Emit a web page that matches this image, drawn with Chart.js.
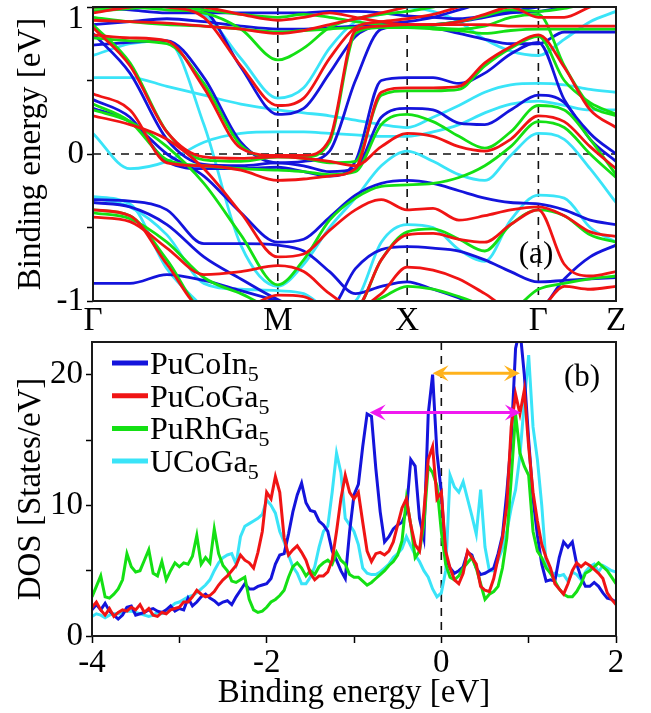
<!DOCTYPE html>
<html>
<head>
<meta charset="utf-8">
<script src="https://cdn.jsdelivr.net/npm/chart.js@4.4.1/dist/chart.umd.min.js"></script>
<style>
  body { margin: 0; background: #ffffff; }
  canvas { display: block; }
</style>
</head>
<body>
<canvas id="chartBands" width="651" height="330"></canvas>
<canvas id="chartDos" width="651" height="383"></canvas>
<script>
// ============================================
// (a) band structure, (b) density of states
// ============================================

// k-path nodes (units of the Γ-M length) and high-symmetry labels
const K_PATH = [0, 0.2, 0.4, 0.6, 0.8, 1.0, 1.14, 1.28, 1.42, 1.56, 1.70, 1.84, 1.98, 2.12, 2.26, 2.41, 2.55, 2.69, 2.83];
const K_TICKS = [0, 1.0, 1.70, 2.41, 2.83];
const K_LABELS = ['Γ', 'M', 'X', 'Γ', 'Z'];
const K_DASHED = [1.0, 1.70, 2.41];

// band energies (eV) at each K_PATH node, one row per band
const BANDS_PuCoGa5 = [
    [0.96, 1.0, 1.02, 1.0, 0.95, 0.91, 0.93, 0.96, 0.93, 0.9, 0.88, 0.88, 0.88, 0.88, 0.87, 0.87, 0.87, 0.87, 0.87],
    [0.91, 0.9, 0.89, 0.87, 0.85, 0.82, 0.84, 0.88, 0.92, 0.96, 1.0, 1.04, 1.06, 1.06, 1.06, 1.06, 1.06, 1.06, 1.06],
    [0.81, 0.79, 0.77, 0.45, 0.04, -0.01, -0.01, 0.1, 0.84, 0.87, 0.88, 0.88, 0.9, 0.95, 1.0, 0.93, 0.93, 1.0, 1.05],
    [1.0, 1.02, 1.0, 0.93, 0.6, 0.33, 0.38, 0.65, 0.86, 0.9, 0.92, 0.95, 1.0, 1.05, 1.05, 1.05, 1.05, 1.05, 1.05],
    [0.41, 0.3, -0.06, -0.08, -0.11, -0.18, -0.17, -0.15, -0.1, 0.42, 0.45, 0.45, 0.46, 0.62, 0.73, 0.81, 0.59, 0.3, 0.18],
    [0.26, 0.2, 0.1, -0.1, -0.4, -0.7, -0.68, -0.52, -0.38, -0.31, -0.38, -0.37, -0.45, -0.42, -0.38, -0.36, -0.42, -0.53, -0.56],
    [-0.38, -0.42, -0.75, -1.05, -1.05, -0.96, -0.97, -1.05, -1.05, -0.95, -0.77, -0.79, -0.85, -0.95, -1.05, -1.05, -0.9, -0.92, -0.9],
    [-0.43, -0.46, -0.64, -0.82, -0.8, -0.76, -0.8, -0.95, -1.05, -0.72, -0.55, -0.54, -0.58, -0.6, -0.48, -0.38, -0.75, -0.83, -0.8],
    [0.86, 0.6, 0.15, -0.02, -0.03, -0.02, -0.03, -0.05, -0.08, 0.05, 0.14, 0.12, 0.05, 0.02, 0.1, 0.26, 0.22, 0.05, -0.1]
];

const BANDS_PuCoIn5 = [
    [1.0, 0.98, 0.96, 0.96, 0.96, 0.96, 0.96, 0.97, 0.97, 0.96, 0.94, 0.93, 0.92, 0.94, 0.97, 1.0, 1.02, 1.02, 1.02],
    [0.88, 0.9, 0.92, 0.9, 0.87, 0.85, 0.85, 0.86, 0.87, 0.88, 0.88, 0.86, 0.82, 0.78, 0.75, 0.75, 0.83, 0.83, 0.83],
    [0.74, 0.76, 0.77, 0.52, 0.08, -0.06, -0.05, 0.02, 0.5, 0.85, 0.87, 0.88, 0.9, 0.93, 0.96, 0.97, 1.0, 1.03, 1.05],
    [1.02, 1.03, 1.03, 0.98, 0.59, 0.27, 0.31, 0.55, 0.8, 0.88, 0.9, 0.93, 0.98, 1.03, 1.05, 1.05, 1.05, 1.05, 1.05],
    [0.37, 0.25, -0.05, -0.1, -0.1, -0.09, -0.12, -0.15, -0.05, 0.5, 0.52, 0.52, 0.48, 0.55, 0.68, 0.76, 0.37, 0.14, 0.0],
    [0.31, 0.22, 0.0, -0.15, -0.4, -0.6, -0.58, -0.43, -0.28, -0.2, -0.18, -0.2, -0.25, -0.3, -0.33, -0.34, -0.38, -0.45, -0.48],
    [0.82, 0.55, 0.1, -0.07, -0.08, -0.06, -0.08, -0.12, -0.1, 0.25, 0.31, 0.3, 0.21, 0.2, 0.3, 0.4, 0.35, 0.1, -0.05],
    [-0.31, -0.32, -0.38, -0.61, -0.61, -0.62, -0.66, -0.8, -0.95, -0.9, -0.87, -0.92, -0.98, -1.05, -1.05, -1.05, -0.85, -0.7, -0.62],
    [-0.33, -0.36, -0.48, -0.7, -0.85, -0.99, -1.05, -1.05, -0.78, -0.65, -0.63, -0.64, -0.66, -0.72, -0.8, -0.87, -0.86, -0.85, -0.84],
    [-0.88, -0.88, -0.82, -0.86, -0.93, -1.0, -1.05, null, null, null, null, null, null, null, null, null, null, null, null]
];

const BANDS_PuRhGa5 = [
    [0.97, 0.99, 1.01, 0.98, 0.95, 0.93, 0.95, 0.93, 0.9, 0.88, 0.87, 0.86, 0.85, 0.87, 0.93, 0.95, 0.6, 0.33, 0.26],
    [0.93, 0.9, 0.88, 0.87, 0.85, 0.83, 0.84, 0.85, 0.86, 0.86, 0.86, 0.85, 0.84, 0.82, 0.84, 0.85, 0.85, 0.85, 0.85],
    [0.99, 1.0, 0.98, 0.96, 0.85, 0.64, 0.72, 0.86, 0.92, 0.95, 0.97, 1.0, 1.03, 1.05, 1.05, 1.05, 1.05, 1.05, 1.05],
    [0.79, 0.77, 0.75, 0.48, 0.06, -0.02, -0.02, 0.08, 0.82, 0.86, 0.87, 0.88, 0.9, 0.94, 0.98, 0.97, 0.99, 1.03, 1.05],
    [0.88, 0.62, 0.15, -0.04, -0.05, -0.02, -0.03, -0.06, -0.05, 0.4, 0.43, 0.43, 0.44, 0.6, 0.72, 0.8, 0.5, 0.35, 0.27],
    [0.34, 0.22, -0.04, -0.08, -0.1, -0.11, -0.12, -0.14, -0.12, 0.2, 0.27, 0.22, 0.12, 0.04, 0.15, 0.33, 0.3, 0.1, -0.14],
    [0.3, 0.22, 0.05, -0.2, -0.55, -0.89, -0.72, -0.45, -0.3, -0.22, -0.21, -0.2, -0.16, -0.08, 0.05, 0.22, 0.18, 0.0, -0.16],
    [-0.38, -0.42, -0.72, -1.05, -1.05, -1.05, -1.05, -1.05, -1.05, -0.72, -0.53, -0.51, -0.58, -0.66, -0.48, -0.38, -0.42, -0.55, -0.6],
    [-0.4, -0.44, -0.6, -0.84, -0.95, -1.05, -1.05, -1.05, -1.05, -0.98, -0.9, -0.92, -0.97, -1.03, -1.05, -0.92, -0.88, -0.85, -0.83]
];

const BANDS_UCoGa5 = [
    [0.67, 0.75, 0.77, 0.2, -0.62, -0.9, -0.75, -0.5, -0.3, -0.08, 0.02, -0.05, -0.14, -0.18, -0.01, 0.14, 0.1, -0.1, -0.33],
    [0.52, 0.52, 0.46, 0.4, 0.34, 0.3, 0.28, 0.26, 0.23, 0.2, 0.18, 0.25, 0.33, 0.42, 0.47, 0.48, 0.47, 0.44, 0.42],
    [1.02, 1.02, 1.0, 0.95, 0.65, 0.38, 0.45, 0.72, 0.9, 0.95, 1.0, 0.97, 0.9, 0.78, 0.7, 0.67, 0.78, 0.9, 0.97],
    [0.14, -0.1, -0.05, 0.08, 0.14, 0.15, 0.15, 0.14, 0.13, 0.12, 0.12, 0.15, 0.2, 0.28, 0.34, 0.36, 0.33, 0.3, 0.3],
    [-0.29, -0.34, -0.78, -1.05, null, null, null, null, null, null, null, null, null, null, null, null, null, null, null],
    [-0.3, -0.36, -0.55, -0.88, -0.92, -0.93, -0.95, -1.05, -1.0, -0.6, -0.48, -0.5, -0.65, -0.73, -0.45, -0.28, -0.3, -0.5, -0.6]
];

// DOS energy grid: -4 eV to 2 eV in 0.05 eV steps
const DOS_E_START = -4;
const DOS_E_STEP = 0.05;

// DOS values (states/eV) on that grid
const DOS_PuCoIn5 = [
    2.0, 2.4, 2.0, 2.5, 1.9, 1.6, 1.3, 1.6, 2.2, 2.3, 1.6, 1.7, 1.8, 2.0, 2.1, 1.9, 1.8, 2.0, 2.3, 1.9,
    2.1, 2.0, 2.9, 2.3, 2.6, 3.0, 3.2, 2.9, 2.7, 2.4, 2.6, 2.7, 2.4, 3.0, 3.5, 4.0, 3.6, 3.6, 3.8, 3.9,
    4.0, 4.4, 5.5, 6.2, 6.3, 7.8, 9.5, 10.8, 11.7, 10.2, 9.6, 9.5, 8.8, 8.5, 8.0, 6.5, 5.8, 5.0, 4.4, 8.0,
    10.8, 11.6, 14.5, 17.0, 16.8, 12.8, 9.5, 7.2, 7.6, 8.2, 8.5, 8.7, 9.5, 13.5, 13.0, 9.0, 7.5, 17.0, 20.0, 14.0,
    11.0, 6.0, 5.2, 4.8, 5.0, 5.3, 6.4, 6.2, 5.2, 4.7, 4.8, 5.0, 5.2, 6.3, 7.7, 11.0, 15.0, 22.0, 23.5, 20.0,
    15.0, 10.5, 7.7, 5.5, 4.2, 4.3, 4.2, 6.0, 7.2, 6.8, 7.2, 5.5, 4.5, 3.8, 3.8, 4.1, 3.8, 3.3, 2.9, 2.8, 2.6
];

const DOS_PuCoGa5 = [
    2.2, 2.6, 2.0, 1.6, 2.1, 1.5, 1.8, 2.0, 1.9, 2.2, 2.0, 2.4, 1.8, 2.1, 1.6, 1.5, 1.8, 1.7, 2.0, 2.1,
    2.2, 2.6, 2.6, 3.0, 3.5, 3.2, 3.0, 3.1, 3.4, 3.9, 4.3, 4.6, 5.0, 5.4, 6.2, 5.8, 5.6, 5.2, 6.4, 8.0,
    11.0, 10.5, 12.2, 11.0, 7.5, 6.2, 6.6, 6.9, 6.4, 5.8, 4.8, 4.3, 4.6, 4.6, 4.9, 5.8, 8.0, 10.5, 12.3, 11.0,
    10.5, 11.0, 8.7, 6.5, 5.7, 6.3, 6.4, 6.2, 6.5, 7.2, 8.5, 9.8, 10.5, 8.5, 7.0, 6.5, 9.5, 13.5, 14.5, 10.5,
    11.0, 6.5, 5.2, 4.3, 4.0, 4.8, 6.5, 6.0, 5.5, 3.8, 3.5, 3.4, 4.4, 6.0, 7.5, 10.0, 16.0, 18.5, 17.0, 18.8,
    14.5, 11.0, 8.8, 7.0, 6.0, 5.2, 4.0, 3.6, 3.2, 4.0, 5.0, 5.6, 5.3, 5.6, 5.4, 5.1, 4.8, 4.4, 3.3, 2.8, 2.4
];

const DOS_PuRhGa5 = [
    3.0, 3.8, 4.6, 3.0, 2.9, 3.2, 3.6, 4.3, 6.3, 5.3, 4.9, 5.0, 5.8, 6.6, 4.8, 4.6, 5.7, 4.3, 5.0, 5.6,
    5.3, 5.6, 5.5, 6.1, 7.7, 5.5, 6.0, 5.6, 8.2, 6.3, 5.4, 5.0, 4.2, 4.1, 4.3, 4.5, 2.8, 2.0, 1.8, 1.9,
    2.2, 2.6, 2.8, 3.1, 3.5, 4.5, 5.3, 5.6, 5.2, 4.6, 5.0, 4.7, 5.3, 5.6, 5.8, 5.5, 6.4, 5.8, 5.5, 4.7,
    4.5, 4.5, 4.2, 3.9, 4.1, 4.4, 4.7, 5.0, 5.4, 5.7, 6.2, 7.3, 10.5, 8.5, 6.0, 6.5, 8.5, 13.0, 12.5, 11.5,
    8.0, 5.5, 4.5, 4.3, 4.6, 5.2, 5.6, 6.0, 5.2, 4.0, 2.8, 3.2, 3.4, 3.8, 5.2, 7.5, 12.0, 17.0, 14.0, 13.0,
    12.3, 8.0, 6.5, 6.0, 5.2, 4.8, 4.2, 3.6, 3.2, 3.0, 3.0, 3.4, 4.0, 4.8, 5.0, 5.3, 5.6, 5.3, 5.0, 4.5, 4.0
];

const DOS_UCoGa5 = [
    1.5, 1.7, 1.6, 1.4, 1.6, 1.7, 1.7, 1.8, 1.9, 1.9, 1.8, 1.7, 1.6, 1.5, 1.6, 1.8, 1.7, 1.8, 2.2, 2.5,
    2.6, 2.8, 3.0, 3.1, 3.3, 3.6, 3.9, 4.3, 5.0, 5.6, 6.0, 6.2, 6.3, 5.5, 7.6, 8.4, 8.6, 8.8, 9.0, 9.3,
    10.4, 10.0, 9.4, 8.0, 7.2, 6.2, 5.3, 4.8, 4.0, 4.0, 4.5, 5.3, 6.8, 8.0, 8.4, 11.0, 14.0, 12.5, 9.0, 8.5,
    8.0, 7.0, 5.2, 4.8, 4.7, 4.7, 4.9, 5.2, 5.5, 6.0, 6.3, 6.7, 7.6, 6.9, 6.2, 5.7, 5.0, 4.5, 3.6, 3.0,
    3.3, 5.0, 12.3, 11.4, 11.0, 11.8, 10.5, 9.2, 7.8, 11.2, 6.8, 5.0, 5.0, 5.8, 6.7, 8.0, 9.8, 11.2, 13.8, 17.9,
    21.5, 16.0, 13.5, 10.0, 5.5, 4.8, 4.8, 4.6, 4.7, 4.2, 4.9, 4.7, 4.3, 4.9, 5.3, 5.5, 4.9, 5.4, 5.2, 5.0, 4.9
];

// double arrows in (b): [start energy, end energy, DOS level]
const ARROW_ORANGE = [-0.10, 0.90, 20.1];
const ARROW_MAGENTA = [-0.82, 0.91, 17.1];

// Colores
const C_BLUE = '#1414dc';
const C_RED = '#f01414';
const C_GREEN = '#14e014';
const C_CYAN = '#3ae4f8';

const SERIES = [
    { name: 'PuCoIn', sub: '5', color: C_BLUE, bands: BANDS_PuCoIn5, dos: DOS_PuCoIn5, order: 3 },
    { name: 'PuCoGa', sub: '5', color: C_RED, bands: BANDS_PuCoGa5, dos: DOS_PuCoGa5, order: 1 },
    { name: 'PuRhGa', sub: '5', color: C_GREEN, bands: BANDS_PuRhGa5, dos: DOS_PuRhGa5, order: 2 },
    { name: 'UCoGa', sub: '5', color: C_CYAN, bands: BANDS_UCoGa5, dos: DOS_UCoGa5, order: 4 }
];

const SERIF = '"Liberation Serif", "DejaVu Serif", "Times New Roman", Times, serif';
Chart.defaults.font.family = SERIF;
Chart.defaults.color = '#000';
Chart.defaults.animation = false;

const FONT_BIG = { size: 33 };

// no extra room for the end tick labels: keep the plot box where it is
function noEdgePadding(scale) {
    scale.paddingTop = 0;
    scale.paddingBottom = 0;
    scale.paddingLeft = 0;
    scale.paddingRight = 0;
}

// caja alrededor del area del grafico
const boxPlugin = {
    id: 'box',
    afterDatasetsDraw(chart) {
        const a = chart.chartArea;
        const ctx = chart.ctx;
        ctx.save();
        ctx.strokeStyle = '#1a1a1a';
        ctx.lineWidth = 2;
        ctx.strokeRect(a.left, a.top, a.right - a.left, a.bottom - a.top);
        ctx.restore();
    }
};

function dashedLine(ctx, x1, y1, x2, y2) {
    ctx.save();
    ctx.strokeStyle = '#111';
    ctx.lineWidth = 1.6;
    ctx.setLineDash([8, 6]);
    ctx.beginPath();
    ctx.moveTo(x1, y1);
    ctx.lineTo(x2, y2);
    ctx.stroke();
    ctx.restore();
}

// ==========================================
// (a) Band structure
// ==========================================
const bandDatasets = [];
SERIES.forEach(s => {
    s.bands.forEach(band => {
        bandDatasets.push({
            data: band.map((e, i) => ({ x: K_PATH[i], y: e })),
            borderColor: s.color,
            borderWidth: 2.8,
            pointRadius: 0,
            cubicInterpolationMode: 'monotone',
            spanGaps: false,
            order: s.order
        });
    });
});

new Chart(document.getElementById('chartBands'), {
    type: 'line',
    data: { datasets: bandDatasets },
    options: {
        responsive: false,
        layout: { padding: { top: 7, right: 35, left: 0, bottom: 0 } },
        plugins: { legend: { display: false }, tooltip: { enabled: false } },
        scales: {
            x: {
                type: 'linear',
                min: 0,
                max: 2.83,
                afterBuildTicks: scale => { scale.ticks = K_TICKS.map(v => ({ value: v })); },
                afterFit: scale => { scale.height = 29; noEdgePadding(scale); },
                ticks: {
                    font: FONT_BIG,
                    padding: 1,
                    maxRotation: 0,
                    autoSkip: false,
                    callback: (value, index) => K_LABELS[index]
                },
                grid: { display: false, drawTicks: false },
                border: { display: false }
            },
            y: {
                min: -1,
                max: 1,
                afterFit: scale => { scale.width = 93; noEdgePadding(scale); },
                ticks: {
                    stepSize: 0.5,
                    font: FONT_BIG,
                    padding: 3,
                    // the top label "1" is drawn just inside the frame by the plugin below
                    callback: value => (Number.isInteger(value) && value !== 1 ? String(value) : '')
                },
                grid: { drawOnChartArea: false, tickLength: 6, tickColor: '#000', tickWidth: 1.5 },
                border: { display: false },
                title: {
                    display: true,
                    text: 'Binding energy [eV]',
                    font: FONT_BIG,
                    padding: { top: 12, bottom: 0 }
                }
            }
        }
    },
    plugins: [boxPlugin, {
        id: 'bandExtras',
        beforeDatasetsDraw(chart) {
            const a = chart.chartArea;
            const xs = chart.scales.x;
            const ys = chart.scales.y;
            K_DASHED.forEach(k => {
                const px = xs.getPixelForValue(k);
                dashedLine(chart.ctx, px, a.top, px, a.bottom);
            });
            const y0 = ys.getPixelForValue(0);
            dashedLine(chart.ctx, a.left, y0, a.right, y0);
        },
        afterDatasetsDraw(chart) {
            const ctx = chart.ctx;
            const a = chart.chartArea;
            ctx.save();
            ctx.fillStyle = '#000';
            ctx.font = '33px ' + SERIF;
            ctx.textAlign = 'right';
            ctx.textBaseline = 'top';
            ctx.fillText('1', a.left - 9, chart.scales.y.getPixelForValue(1) - 4);
            ctx.font = '31px ' + SERIF;
            ctx.textAlign = 'center';
            ctx.textBaseline = 'middle';
            ctx.fillText('(a)', a.right - 80, a.bottom - 46);
            ctx.restore();
        }
    }]
});

// ==========================================
// (b) Density of states
// ==========================================
const dosDatasets = SERIES.map(s => ({
    data: s.dos.map((v, i) => ({ x: DOS_E_START + i * DOS_E_STEP, y: v })),
    borderColor: s.color,
    borderWidth: 3,
    pointRadius: 0,
    tension: 0,
    order: s.order
}));

function drawArrow(ctx, x1, x2, y, color) {
    const L = 16, W = 8;
    ctx.save();
    ctx.strokeStyle = color;
    ctx.fillStyle = color;
    ctx.lineWidth = 3;
    ctx.beginPath();
    ctx.moveTo(x1 + 8, y);
    ctx.lineTo(x2 - 8, y);
    ctx.stroke();
    [[x1, 1], [x2, -1]].forEach(([tip, dir]) => {
        ctx.beginPath();
        ctx.moveTo(tip, y);
        ctx.lineTo(tip + dir * L, y - W);
        ctx.lineTo(tip + dir * L * 0.6, y);
        ctx.lineTo(tip + dir * L, y + W);
        ctx.closePath();
        ctx.fill();
    });
    ctx.restore();
}

new Chart(document.getElementById('chartDos'), {
    type: 'line',
    data: { datasets: dosDatasets },
    options: {
        responsive: false,
        layout: { padding: { top: 12, right: 35, left: 0, bottom: 0 } },
        plugins: { legend: { display: false }, tooltip: { enabled: false } },
        scales: {
            x: {
                type: 'linear',
                min: -4,
                max: 2,
                afterFit: scale => { scale.height = 77; noEdgePadding(scale); },
                ticks: {
                    stepSize: 1,
                    font: FONT_BIG,
                    padding: 1,
                    maxRotation: 0,
                    callback: value => (value % 2 === 0 ? String(value) : '')
                },
                grid: { drawOnChartArea: false, tickLength: 7, tickColor: '#000', tickWidth: 1.5 },
                border: { display: false },
                title: {
                    display: true,
                    text: 'Binding energy [eV]',
                    font: FONT_BIG,
                    padding: { top: 0, bottom: 0 }
                }
            },
            y: {
                min: 0,
                max: 22.5,
                afterFit: scale => { scale.width = 92; noEdgePadding(scale); },
                ticks: {
                    stepSize: 5,
                    includeBounds: false,
                    font: FONT_BIG,
                    padding: 3,
                    callback: value => (value % 10 === 0 ? String(value) : '')
                },
                grid: { drawOnChartArea: false, tickLength: 6, tickColor: '#000', tickWidth: 1.5 },
                border: { display: false },
                title: {
                    display: true,
                    text: 'DOS [States/eV]',
                    font: FONT_BIG,
                    padding: { top: 12, bottom: 0 }
                }
            }
        }
    },
    plugins: [boxPlugin, {
        id: 'dosExtras',
        beforeDatasetsDraw(chart) {
            const a = chart.chartArea;
            const px = chart.scales.x.getPixelForValue(0);
            dashedLine(chart.ctx, px, a.top, px, a.bottom);
        },
        afterDatasetsDraw(chart) {
            const ctx = chart.ctx;
            const a = chart.chartArea;
            const xs = chart.scales.x;
            const ys = chart.scales.y;
            [[ARROW_ORANGE, '#ffb21c'], [ARROW_MAGENTA, '#f019f0']].forEach(([arr, col]) => {
                drawArrow(ctx, xs.getPixelForValue(arr[0]), xs.getPixelForValue(arr[1]), ys.getPixelForValue(arr[2]), col);
            });

            // legend with subscripts
            ctx.save();
            SERIES.forEach((s, i) => {
                const y = a.top + 21 + i * 32.7;
                ctx.strokeStyle = s.color;
                ctx.lineWidth = 5;
                ctx.beginPath();
                ctx.moveTo(a.left + 20, y);
                ctx.lineTo(a.left + 56, y);
                ctx.stroke();
                ctx.fillStyle = '#000';
                ctx.textBaseline = 'alphabetic';
                ctx.textAlign = 'left';
                ctx.font = '32px ' + SERIF;
                ctx.fillText(s.name, a.left + 58, y + 11);
                const w = ctx.measureText(s.name).width;
                ctx.font = '22px ' + SERIF;
                ctx.fillText(s.sub, a.left + 58 + w, y + 18);
            });
            ctx.font = '31px ' + SERIF;
            ctx.textAlign = 'center';
            ctx.textBaseline = 'middle';
            ctx.fillText('(b)', a.right - 34, a.top + 36);
            ctx.restore();
        }
    }]
});
</script>
</body>
</html>
